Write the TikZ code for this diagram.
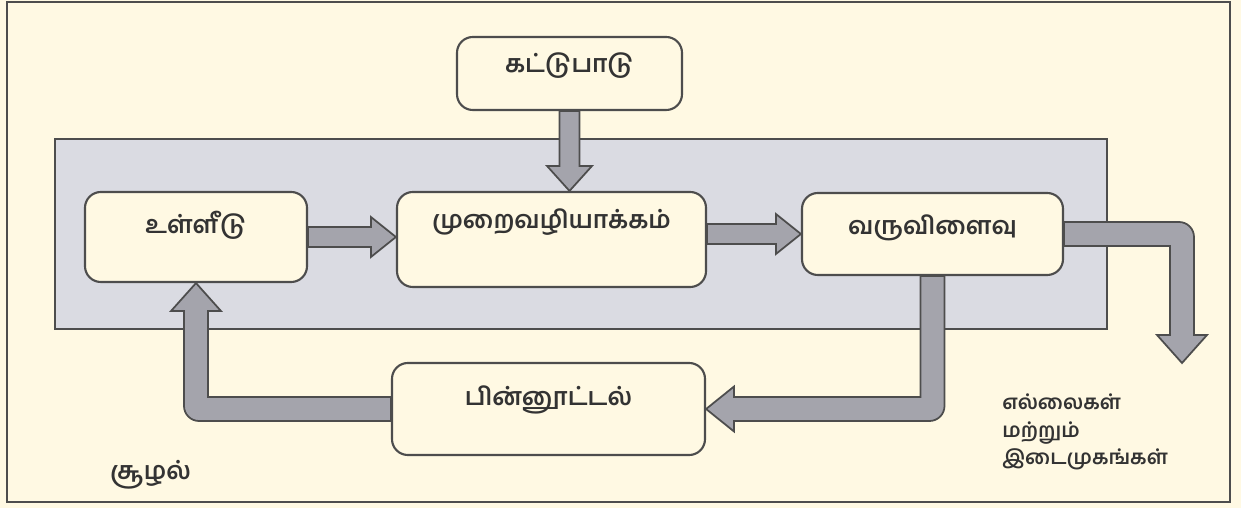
\documentclass[tikz,border=0pt]{standalone}
\usepackage{fontspec}
\newfontfamily\tamilfont[Script=Tamil]{Hind Madurai}
\usetikzlibrary{calc}
\definecolor{paper}{HTML}{FFF9E3}
\definecolor{panelgray}{HTML}{DADBE2}
\definecolor{pipegray}{HTML}{A4A4AC}
\definecolor{edgegray}{HTML}{4D4D4D}
\definecolor{ink}{HTML}{333333}
\tikzset{
    tamil text/.style={font=\tamilfont\bfseries\fontsize{14}{15.5}\selectfont, text=ink},
    small tamil/.style={tamil text, font=\tamilfont\bfseries\fontsize{11.5}{15.5}\selectfont},
    box/.style={draw=edgegray, line width=1.2pt, fill=paper, rounded corners=9pt},
    pipe/.style={draw=edgegray, fill=pipegray, line width=1pt},
}
\newcommand{\flowright}[2]{
    \path[pipe] let \p1=(#1), \p2=(#2) in
        (\x1,\y1+0.2cm) -- (\x2-0.5cm,\y1+0.2cm) -- (\x2-0.5cm,\y1+0.4cm)
        -- (\x2,\y1) -- (\x2-0.5cm,\y1-0.4cm) -- (\x2-0.5cm,\y1-0.2cm)
        -- (\x1,\y1-0.2cm) -- cycle;
}
\newcommand{\flowdown}[2]{
    \path[pipe] let \p1=(#1), \p2=(#2) in
        (\x1-0.2cm,\y1) -- (\x1-0.2cm,\y2+0.5cm) -- (\x1-0.45cm,\y2+0.5cm)
        -- (\x1,\y2) -- (\x1+0.45cm,\y2+0.5cm) -- (\x1+0.2cm,\y2+0.5cm)
        -- (\x1+0.2cm,\y1) -- cycle;
}

\begin{document}
\begin{tikzpicture}
    \fill[paper] (0,0) rectangle (24.82,10.16);
    \useasboundingbox (0,0) rectangle (24.82,10.16);
    \draw[edgegray, line width=0.8pt] (0.14,0.12) rectangle (24.6,10.12);
    \draw[draw=edgegray, fill=panelgray, line width=1pt] (1.10,3.58) rectangle (22.14,7.38);

    \node[box, minimum width=4.5cm, minimum height=1.46cm,
          label={[tamil text, yshift=0.16cm]center:கட்டுபாடு}] (ctrl) at (11.39,8.69) {};
    \node[box, minimum width=4.44cm, minimum height=1.8cm,
          label={[tamil text, yshift=0.24cm]center:உள்ளீடு}] (input) at (3.92,5.42) {};
    \node[box, minimum width=6.18cm, minimum height=1.9cm,
          label={[tamil text, yshift=0.34cm]center:முறைவழியாக்கம்}] (process) at (11.03,5.37) {};
    \node[box, minimum width=5.22cm, minimum height=1.64cm,
          label={[tamil text, yshift=0.12cm]center:வருவிளைவு}] (output) at (18.65,5.48) {};
    \node[box, minimum width=6.26cm, minimum height=1.84cm,
          label={[tamil text, yshift=0.18cm]center:பின்னூட்டல்}] (feedback) at (10.97,1.98) {};

    \node[small tamil, align=left, anchor=west, inner sep=0pt] (bounds) at (20.04,1.52)
        {எல்லைகள்\\மற்றும்\\இடைமுகங்கள்};
    \node[tamil text] (env) at (3.01,0.66) {சூழல்};
    \coordinate (outtip) at (23.64,2.90);

    \flowdown{ctrl.south}{process.north}
    \flowright{input.east}{process.west}
    \flowright{process.east |- output.west}{output.west}

    \path[pipe] let \p1=(output.east), \p2=(outtip) in
        (\x1,\y1+0.24cm) [rounded corners=0.3cm] -- (\x2+0.24cm,\y1+0.24cm) [sharp corners]
        -- (\x2+0.24cm,\y2+0.56cm) -- (\x2+0.5cm,\y2+0.56cm) -- (\x2,\y2)
        -- (\x2-0.5cm,\y2+0.56cm) -- (\x2-0.24cm,\y2+0.56cm)
        -- (\x2-0.24cm,\y1-0.24cm) -- (\x1,\y1-0.24cm) -- cycle;
    \path[pipe] let \p1=(output.south), \p2=(feedback.east) in
        (\x1-0.24cm,\y1) -- (\x1-0.24cm,\y2+0.24cm) -- (\x2+0.56cm,\y2+0.24cm)
        -- (\x2+0.56cm,\y2+0.45cm) -- (\x2,\y2) -- (\x2+0.56cm,\y2-0.45cm)
        -- (\x2+0.56cm,\y2-0.24cm) [rounded corners=0.3cm] -- (\x1+0.24cm,\y2-0.24cm) [sharp corners]
        -- (\x1+0.24cm,\y1) -- cycle;
    \path[pipe] let \p1=(feedback.west), \p2=(input.south) in
        (\x1,\y1+0.24cm) -- (\x2+0.24cm,\y1+0.24cm) -- (\x2+0.24cm,\y2-0.56cm)
        -- (\x2+0.5cm,\y2-0.56cm) -- (\x2,\y2) -- (\x2-0.5cm,\y2-0.56cm)
        -- (\x2-0.24cm,\y2-0.56cm) [rounded corners=0.3cm] -- (\x2-0.24cm,\y1-0.24cm) [sharp corners]
        -- (\x1,\y1-0.24cm) -- cycle;
\end{tikzpicture}
\end{document}
